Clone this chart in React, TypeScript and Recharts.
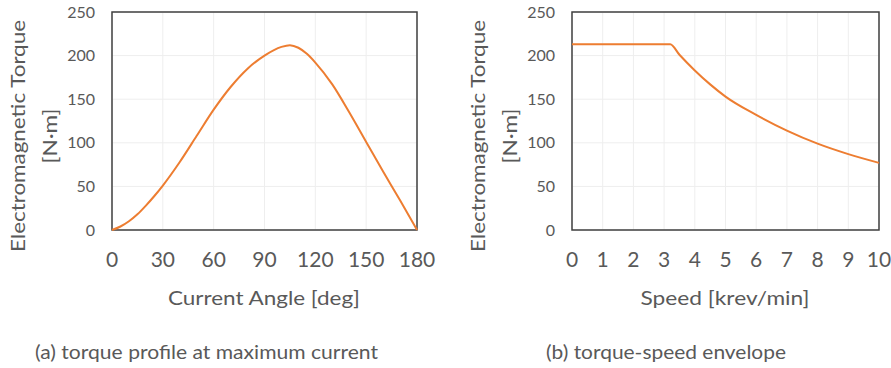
import { LineChart, Line, XAxis, YAxis, CartesianGrid, ReferenceArea } from "recharts";

// (a) torque vs current angle
const angleDeg = [0, 5, 10, 15, 20, 25, 30, 40, 50, 60, 70, 80, 90, 100, 105, 110, 115, 120, 130, 140, 150, 160, 170, 180];
const torqueA = [0, 4, 10, 18, 28, 39, 51, 78, 108, 138, 164, 185, 200, 210, 212, 209, 202, 192, 167, 135, 101, 67, 34, 0];
const angleTicks = [0, 30, 60, 90, 120, 150, 180];

// (b) torque-speed envelope
const speedK = [0, 1, 2, 3, 3.2, 3.5, 4, 4.5, 5, 6, 7, 8, 9, 10];
const torqueB = [213, 213, 213, 213, 213, 201, 183, 167, 153, 132, 114, 99, 87, 77];
const speedTicks = [0, 1, 2, 3, 4, 5, 6, 7, 8, 9, 10];

const torqueTicks = [0, 50, 100, 150, 200, 250];

const FONT = "Lato, 'Open Sans', sans-serif";
const TEXT = "#595959";
const ORANGE = "#ED7D31";

const dataA = angleDeg.map((x, i) => ({ x, y: torqueA[i] }));
const dataB = speedK.map((x, i) => ({ x, y: torqueB[i] }));

function Panel({ data, xMax, xTicks, left, width, right }: {
  data: { x: number; y: number }[];
  xMax: number;
  xTicks: number[];
  left: number;
  width: number;
  right: number;
}) {
  return (
    <div style={{ position: "absolute", left, top: 0 }}>
      <LineChart width={width} height={280} data={data}
        margin={{ top: 12, right, left: 0, bottom: 10 }}>
        <CartesianGrid stroke="#eeeeee" strokeWidth={1} />
        <XAxis type="number" dataKey="x" domain={[0, xMax]} ticks={xTicks}
          axisLine={false} tickLine={false} tickSize={0} tickMargin={22} height={40}
          tick={{ fontSize: 21, fill: TEXT, fontFamily: FONT }} interval={0} />
        <YAxis type="number" domain={[0, 250]} ticks={torqueTicks}
          axisLine={false} tickLine={false} tickSize={0} tickMargin={17} width={112}
          tick={{ fontSize: 16, fill: TEXT, fontFamily: FONT }} />
        <ReferenceArea x1={0} x2={xMax} y1={0} y2={250}
          fill="none" stroke="#404040" strokeWidth={1.5} strokeOpacity={1} />
        <Line type="monotone" dataKey="y" stroke={ORANGE} strokeWidth={2}
          dot={false} isAnimationActive={false} />
      </LineChart>
    </div>
  );
}

export default function App() {
  const t = { fontFamily: FONT, fill: TEXT, fontSize: 19 };
  return (
    <div style={{ position: "absolute", left: 0, top: 0, width: 891, height: 368, background: "#fff" }}>
      <Panel data={dataA} xMax={180} xTicks={angleTicks} left={0} width={445} right={28} />
      <Panel data={dataB} xMax={10} xTicks={speedTicks} left={460} width={431} right={12} />
      <svg width={891} height={368} style={{ position: "absolute", left: 0, top: 0, pointerEvents: "none" }}>
        <text {...t} x={25} y={136} textAnchor="middle" transform="rotate(-90 25 136)"
          textLength={232} lengthAdjust="spacingAndGlyphs">Electromagnetic Torque</text>
        <text {...t} x={57} y={136} textAnchor="middle" transform="rotate(-90 57 136)"
          textLength={55} lengthAdjust="spacingAndGlyphs">[N·m]</text>
        <text {...t} x={485} y={136} textAnchor="middle" transform="rotate(-90 485 136)"
          textLength={232} lengthAdjust="spacingAndGlyphs">Electromagnetic Torque</text>
        <text {...t} x={517} y={136} textAnchor="middle" transform="rotate(-90 517 136)"
          textLength={55} lengthAdjust="spacingAndGlyphs">[N·m]</text>
        <text {...t} x={264} y={305} textAnchor="middle"
          textLength={192} lengthAdjust="spacingAndGlyphs">Current Angle [deg]</text>
        <text {...t} x={725} y={305} textAnchor="middle"
          textLength={169} lengthAdjust="spacingAndGlyphs">Speed [krev/min]</text>
        <text {...t} x={35} y={359}
          textLength={343} lengthAdjust="spacingAndGlyphs">(a) torque profile at maximum current</text>
        <text {...t} x={546} y={359}
          textLength={240} lengthAdjust="spacingAndGlyphs">(b) torque-speed envelope</text>
      </svg>
    </div>
  );
}
